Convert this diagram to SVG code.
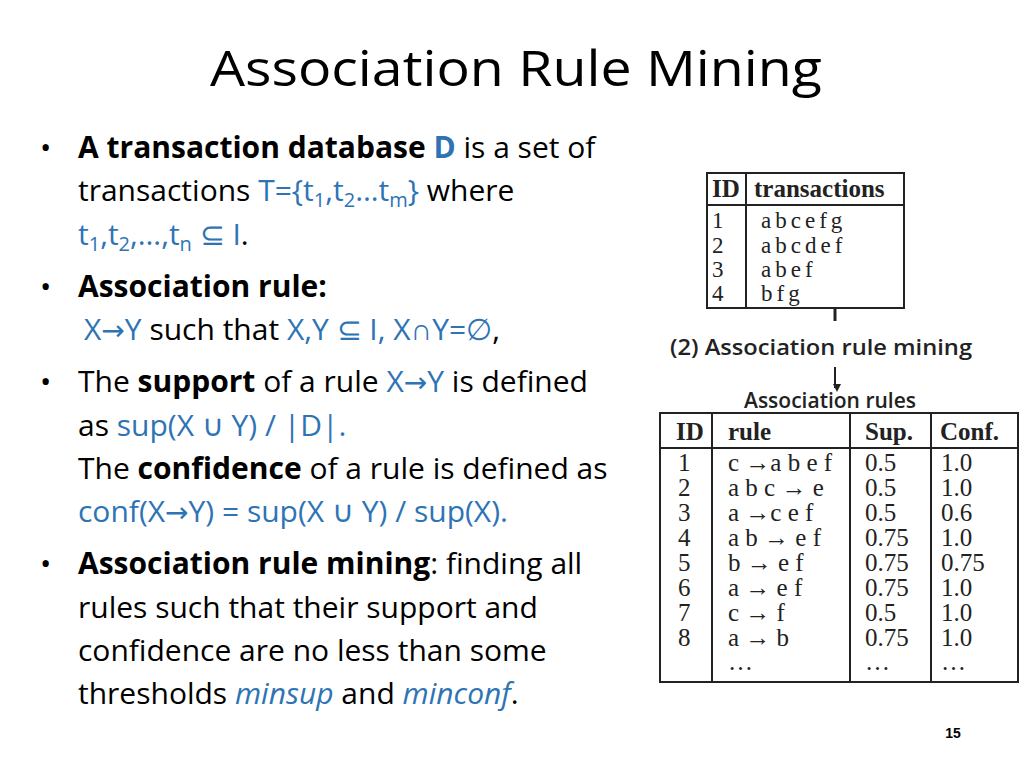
<svg xmlns="http://www.w3.org/2000/svg" width="1024" height="768" viewBox="0 0 1024 768">
<style>
.t{font-family:"Open Sans","Liberation Sans",sans-serif;font-size:30px;fill:#000}
.b{fill:#2E74B5}
.s{font-size:20px}
.a{font-family:"DejaVu Sans",sans-serif;font-size:28px}
.tb{font-family:"Liberation Serif","Times New Roman",serif;font-size:25px;fill:#222}
.tt{font-family:"Liberation Serif","Times New Roman",serif;font-size:23px;fill:#222}
.h{font-weight:bold}
.lb{font-family:"Open Sans","Liberation Sans",sans-serif;font-weight:600;font-size:21px;fill:#222}
.ln{stroke:#222;stroke-width:2;fill:none}
</style>
<defs><marker id="ar" markerWidth="8" markerHeight="8" refX="4" refY="6" orient="auto" markerUnits="userSpaceOnUse"><path d="M0,0 L8,0 L4,8 Z" transform="rotate(-90 4 4)" fill="#222"/></marker></defs>
<rect width="1024" height="768" fill="#fff"/>
<text x="210" y="86" textLength="612" lengthAdjust="spacingAndGlyphs" font-family="Open Sans,Liberation Sans,sans-serif" font-size="50" fill="#000">Association Rule Mining</text>
<g id="bullets" class="t">
<text x="40" y="158">•</text><text x="40" y="297">•</text><text x="40" y="392">•</text><text x="40" y="574">•</text>
<text x="78" y="158"><tspan font-weight="bold">A transaction database </tspan><tspan class="b" font-weight="bold">D</tspan> is a set of</text>
<text x="78" y="201">transactions <tspan class="b">T={t<tspan class="s" dy="6">1</tspan><tspan dy="-6">,t</tspan><tspan class="s" dy="6">2</tspan><tspan dy="-6">…t</tspan><tspan class="s" dy="6">m</tspan><tspan dy="-6">}</tspan></tspan>  where</text>
<text x="78" y="245"><tspan class="b">t<tspan class="s" dy="6">1</tspan><tspan dy="-6">,t</tspan><tspan class="s" dy="6">2</tspan><tspan dy="-6">,…,t</tspan><tspan class="s" dy="6">n</tspan><tspan dy="-6"> ⊆ I</tspan></tspan>.</text>
<text x="78" y="297" font-weight="bold">Association rule:</text>
<text x="84" y="340"><tspan class="b">X<tspan class="a">→</tspan>Y</tspan> such that <tspan class="b">X,Y ⊆ I, X∩Y=∅</tspan>,</text>
<text x="78" y="392">The <tspan font-weight="bold">support</tspan> of a rule <tspan class="b">X<tspan class="a">→</tspan>Y</tspan> is defined</text>
<text x="78" y="436">as <tspan class="b">sup(X ∪ Y) / |D|.</tspan></text>
<text x="78" y="479">The <tspan font-weight="bold">confidence</tspan> of a rule is defined as</text>
<text x="78" y="522" class="b">conf(X<tspan class="a">→</tspan>Y) = sup(X ∪ Y) / sup(X).</text>
<text x="78" y="574"><tspan font-weight="bold">Association rule mining</tspan>: finding all</text>
<text x="78" y="618">rules such that their support and</text>
<text x="78" y="661">confidence are no less than some</text>
<text x="78" y="704">thresholds <tspan class="b" font-style="italic">minsup</tspan> and <tspan class="b" font-style="italic">minconf</tspan>.</text>
</g>
<g id="transactions">
<rect x="707" y="173" width="197" height="135" class="ln"/>
<line x1="707" y1="205" x2="904" y2="205" class="ln"/>
<line x1="746" y1="173" x2="746" y2="308" class="ln"/>
<text x="712" y="197" class="tb h">ID</text><text x="754" y="197" class="tb h">transactions</text>
<g class="tt"><text x="712" y="228">1</text><text x="712" y="253">2</text><text x="712" y="277">3</text><text x="712" y="301">4</text>
<text x="761" y="228" letter-spacing="4">abcefg</text><text x="761" y="253" letter-spacing="4">abcdef</text><text x="761" y="277" letter-spacing="4">abef</text><text x="761" y="301" letter-spacing="4">bfg</text></g>
</g>
<g id="connectors">
<line x1="835" y1="308" x2="835" y2="321" stroke="#222" stroke-width="3"/>
<line x1="835" y1="367" x2="835" y2="388" stroke="#222" stroke-width="2" marker-end="url(#ar)"/>
</g>
<text x="670" y="355" class="lb" textLength="302" lengthAdjust="spacingAndGlyphs">(2) Association rule mining</text>
<text x="830" y="408" class="lb" text-anchor="middle">Association rules</text>
<g id="rules">
<rect x="660" y="413" width="358" height="269" class="ln"/>
<line x1="660" y1="448" x2="1018" y2="448" class="ln"/>
<line x1="712" y1="413" x2="712" y2="682" class="ln"/>
<line x1="850" y1="413" x2="850" y2="682" class="ln"/>
<line x1="931" y1="413" x2="931" y2="682" class="ln"/>
<g class="tb h"><text x="676" y="440">ID</text><text x="728" y="440">rule</text><text x="865" y="440">Sup.</text><text x="940" y="440">Conf.</text></g>
<g class="tb">
<text x="678" y="471">1</text><text x="678" y="496">2</text><text x="678" y="521">3</text><text x="678" y="546">4</text><text x="678" y="571">5</text><text x="678" y="596">6</text><text x="678" y="621">7</text><text x="678" y="646">8</text>
<text x="728" y="471">c →a b e f</text><text x="728" y="496">a b c → e</text><text x="728" y="521">a →c e f</text><text x="728" y="546">a b → e f</text><text x="728" y="571">b → e f</text><text x="728" y="596">a → e f</text><text x="728" y="621">c → f</text><text x="728" y="646">a → b</text><text x="728" y="670">…</text>
<text x="865" y="471">0.5</text><text x="865" y="496">0.5</text><text x="865" y="521">0.5</text><text x="865" y="546">0.75</text><text x="865" y="571">0.75</text><text x="865" y="596">0.75</text><text x="865" y="621">0.5</text><text x="865" y="646">0.75</text><text x="865" y="670">…</text>
<text x="941" y="471">1.0</text><text x="941" y="496">1.0</text><text x="941" y="521">0.6</text><text x="941" y="546">1.0</text><text x="941" y="571">0.75</text><text x="941" y="596">1.0</text><text x="941" y="621">1.0</text><text x="941" y="646">1.0</text><text x="941" y="670">…</text>
</g>
</g>
<text x="953" y="738" text-anchor="middle" font-family="Liberation Sans,sans-serif" font-size="14" font-weight="bold">15</text>
</svg>
